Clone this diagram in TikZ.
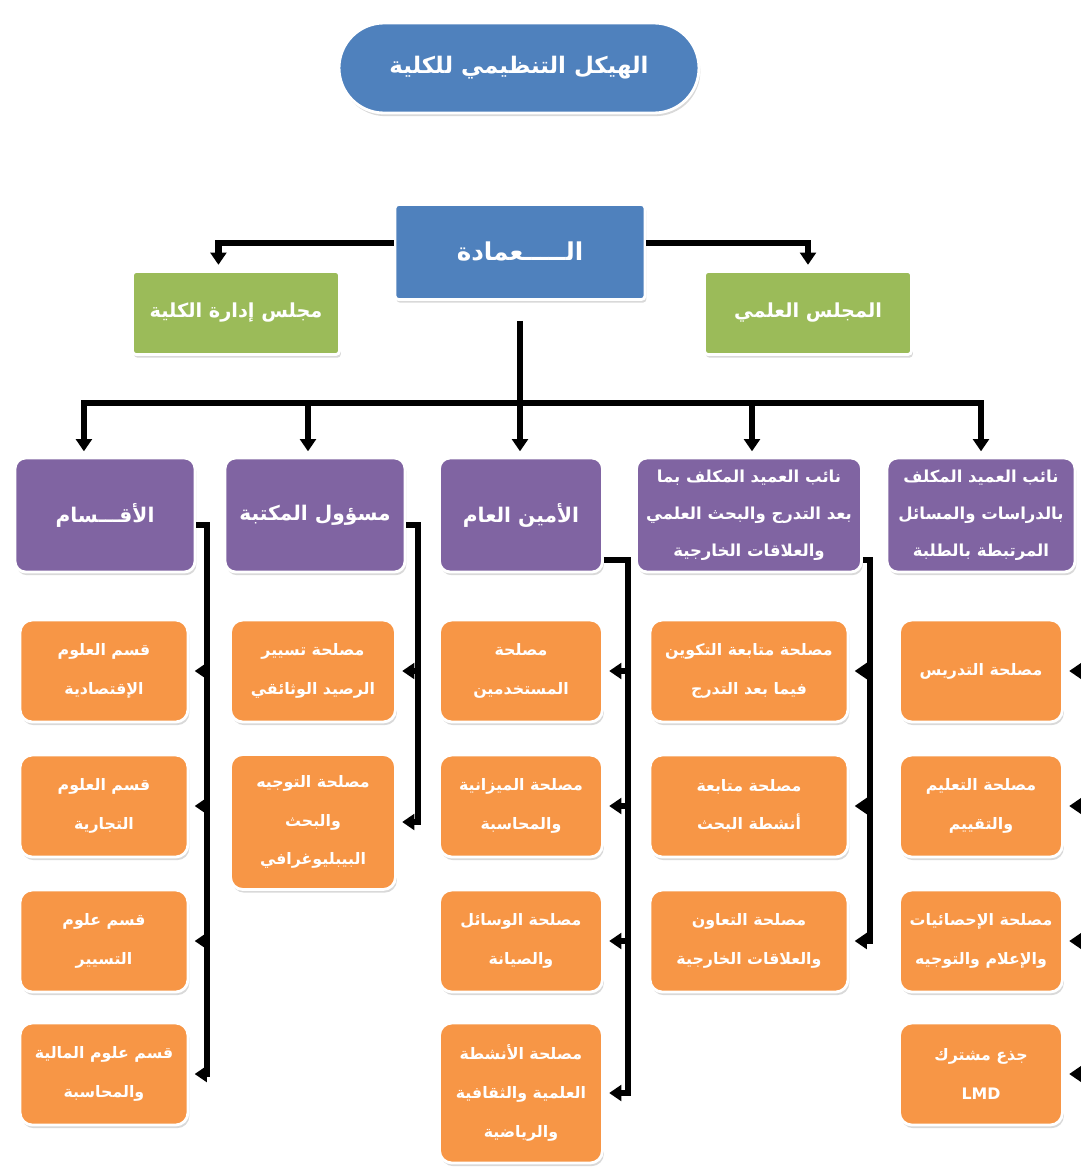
\documentclass[tikz,border=0pt]{standalone}
\usepackage{fontspec}
\newfontfamily\arabicfont[Script=Arabic]{DejaVu Sans}
\TeXXeTstate=1
\usetikzlibrary{arrows.meta,positioning,shadows}
\definecolor{deanblue}{HTML}{4F81BD}
\definecolor{councilgreen}{HTML}{9BBB59}
\definecolor{headpurple}{HTML}{8064A2}
\definecolor{unitorange}{HTML}{F79646}
\newcommand{\rtltext}[1]{\beginR #1\endR}

\tikzset{
  box/.style={draw=white, line width=1.6pt, text=white, align=center, inner sep=2pt,
    font=\arabicfont\bfseries,
    drop shadow={opacity=0.3, shadow xshift=0.8pt, shadow yshift=-1.8pt}},
  titlebox/.style={box, fill=deanblue, minimum width=7.2cm, minimum height=1.8cm,
    rounded corners=0.9cm, font=\arabicfont\bfseries\fontsize{13}{16}\selectfont},
  deanbox/.style={box, fill=deanblue, minimum width=5cm, minimum height=1.9cm,
    rounded corners=2pt, font=\arabicfont\bfseries\fontsize{14}{17}\selectfont},
  councilbox/.style={box, fill=councilgreen, minimum width=4.14cm, minimum height=1.66cm,
    rounded corners=2pt, font=\arabicfont\bfseries\fontsize{11}{14}\selectfont},
  headbox/.style={box, fill=headpurple, minimum height=2.28cm,
    rounded corners=6pt, font=\arabicfont\bfseries\fontsize{11.5}{14}\selectfont},
  headsmall/.style={headbox, font=\arabicfont\bfseries\fontsize{9.4}{21}\selectfont},
  unitbox/.style={box, fill=unitorange, minimum height=2.04cm,
    rounded corners=7pt, font=\arabicfont\bfseries\fontsize{9}{22}\selectfont},
  link/.style={draw=black, line width=3.6pt},
  arr/.style={-{Triangle[length=7pt,width=9pt]}, shorten >=3pt}
}

\begin{document}
\begin{tikzpicture}[x=0.02cm, y=-0.02cm]
   \useasboundingbox (0,0) rectangle (1081,1173);
   % top
   \node[titlebox] (title) at (519,68) {\rtltext{الهيكل التنظيمي للكلية}};
   \node[deanbox] (dean) at (520,252) {\rtltext{الـــــعمادة}};
   \node[councilbox] (cadm) at (236,313) {\rtltext{مجلس إدارة الكلية}};
   \node[councilbox] (csci) at (808,313) {\rtltext{المجلس العلمي}};

   % heads
   \begin{scope}[every node/.style={headbox}]
    \node[minimum width=3.6cm] (h5) at (105,515) {\rtltext{الأقـــسام}};
    \node[minimum width=3.6cm] (h4) at (315,515) {\rtltext{مسؤول المكتبة}};
    \node[minimum width=3.26cm] (h3) at (521,515) {\rtltext{الأمين العام}};
   \end{scope}
   \node[headsmall, minimum width=4.5cm] (h2) at (749,515)
     {\rtltext{نائب العميد المكلف بما}\\\rtltext{بعد التدرج والبحث العلمي}\\\rtltext{والعلاقات الخارجية}};
   \node[headsmall, minimum width=3.76cm] (h1) at (981,515)
     {\rtltext{نائب العميد المكلف}\\\rtltext{بالدراسات والمسائل}\\\rtltext{المرتبطة بالطلبة}};

   % units
   \begin{scope}[every node/.style={unitbox, minimum width=3.26cm}]
    \node (u11) at (981,671) {\rtltext{مصلحة التدريس}};
    \node (u12) at (981,806) {\rtltext{مصلحة التعليم}\\\rtltext{والتقييم}};
    \node (u13) at (981,941) {\rtltext{مصلحة الإحصائيات}\\\rtltext{والإعلام والتوجيه}};
    \node (u14) at (981,1074) {\rtltext{جذع مشترك}\\LMD};
   \end{scope}
   \begin{scope}[every node/.style={unitbox, minimum width=3.96cm}]
    \node (u21) at (749,671) {\rtltext{مصلحة متابعة التكوين}\\\rtltext{فيما بعد التدرج}};
    \node (u22) at (749,806) {\rtltext{مصلحة متابعة}\\\rtltext{أنشطة البحث}};
    \node (u23) at (749,941) {\rtltext{مصلحة التعاون}\\\rtltext{والعلاقات الخارجية}};
   \end{scope}
   \begin{scope}[every node/.style={unitbox, minimum width=3.26cm}]
    \node (u31) at (521,671) {\rtltext{مصلحة}\\\rtltext{المستخدمين}};
    \node (u32) at (521,806) {\rtltext{مصلحة الميزانية}\\\rtltext{والمحاسبة}};
    \node (u33) at (521,941) {\rtltext{مصلحة الوسائل}\\\rtltext{والصيانة}};
    \node[minimum height=2.8cm] (u34) at (521,1093)
      {\rtltext{مصلحة الأنشطة}\\\rtltext{العلمية والثقافية}\\\rtltext{والرياضية}};
   \end{scope}
   \begin{scope}[every node/.style={unitbox, minimum width=3.3cm}]
    \node (u41) at (313,671) {\rtltext{مصلحة تسيير}\\\rtltext{الرصيد الوثائقي}};
    \node[minimum height=2.7cm] (u42) at (313,822)
      {\rtltext{مصلحة التوجيه}\\\rtltext{والبحث}\\\rtltext{البيبليوغرافي}};
   \end{scope}
   \begin{scope}[every node/.style={unitbox, minimum width=3.36cm}]
    \node (u51) at (104,671) {\rtltext{قسم العلوم}\\\rtltext{الإقتصادية}};
    \node (u52) at (104,806) {\rtltext{قسم العلوم}\\\rtltext{التجارية}};
    \node (u53) at (104,941) {\rtltext{قسم علوم}\\\rtltext{التسيير}};
    \node (u54) at (104,1074) {\rtltext{قسم علوم المالية}\\\rtltext{والمحاسبة}};
   \end{scope}

   % bus and spines
   \coordinate (bus) at (520,403);
   \coordinate (b4) at (308,403);
   \coordinate (b2) at (752,403);
   \coordinate (v5) at (207,525);
   \coordinate (v4) at (418,525);
   \coordinate (v3) at (628,560);
   \coordinate (v2) at (870,560);
   \coordinate (v1) at (1100,600);

   \draw[link, arr] ([yshift=5pt]dean.west) -| ([xshift=-10pt]cadm.north);
   \draw[link, arr] ([yshift=5pt]dean.east) -| (csci.north);
   \draw[link] (dean.south) ++(0,20) -- (bus);
   \draw[link, arr] (bus) -| ([xshift=-12pt]h5.north);
   \draw[link, arr] (bus) -| (h1.north);
   \draw[link, arr] (bus) -- (bus |- h3.north);
   \draw[link, arr] (b4) -- (b4 |- h4.north);
   \draw[link, arr] (b2) -- (b2 |- h2.north);

   \draw[link, arr] (h5.east |- v5) -- (v5) |- (u54.east);
   \draw[link, arr] (h4.east |- v4) -- (v4) |- (u42.east);
   \draw[link, arr] (h3.east |- v3) -- (v3) |- (u34.east);
   \draw[link, arr] (h2.east |- v2) -- (v2) |- (u23.east);
   \foreach \u in {u51,u52,u53} \draw[link, arr] (v5 |- \u.east) -- (\u.east);
   \draw[link, arr] (v4 |- u41.east) -- (u41.east);
   \foreach \u in {u31,u32,u33} \draw[link, arr] (v3 |- \u.east) -- (\u.east);
   \foreach \u in {u21,u22} \draw[link, arr] (v2 |- \u.east) -- (\u.east);
   \foreach \u in {u11,u12,u13,u14} \draw[link, arr] (v1 |- \u.east) -- (\u.east);
\end{tikzpicture}
\end{document}
